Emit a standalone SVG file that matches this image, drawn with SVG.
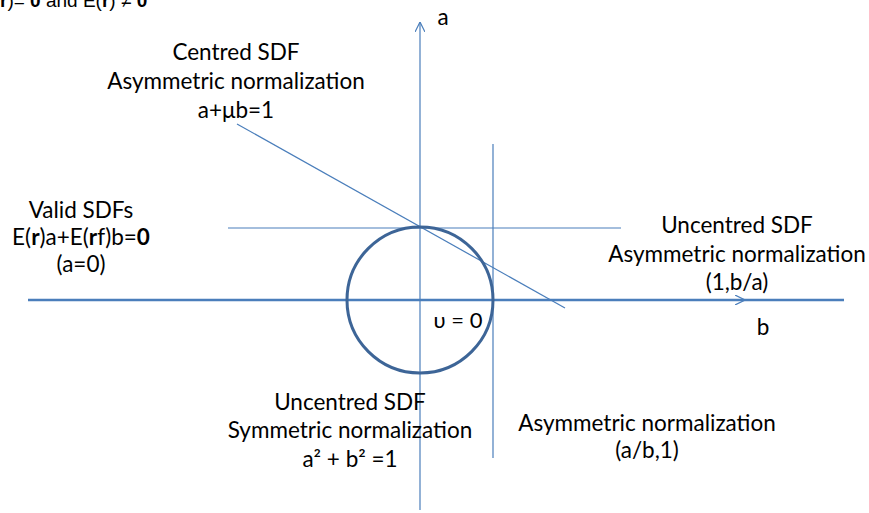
<svg xmlns="http://www.w3.org/2000/svg" width="869" height="513" viewBox="0 0 869 513">
<style>
.t{font-family:Lato,"Liberation Sans",sans-serif;font-size:22.5px;fill:#000;text-anchor:middle}
.ln{stroke:#4a7ebb;stroke-width:1.2;fill:none}
.ax{stroke:#4a7ebb;stroke-width:2.5;fill:none}
.b{font-weight:bold}
</style>
<defs>
<marker id="arr" viewBox="0 0 10 10" refX="10" refY="5" markerWidth="10" markerHeight="10" markerUnits="userSpaceOnUse" orient="auto">
<path d="M0,0 L10,5 L0,10" fill="none" stroke="#4a7ebb" stroke-width="1.2"/>
</marker>
</defs>
<rect width="869" height="513" fill="#fff"/>
<text x="0" y="7" style="font-family:'Liberation Sans',Arial,sans-serif;font-size:19px" fill="#000"><tspan class="b">r</tspan>)= <tspan class="b">0</tspan> and E(<tspan class="b">r</tspan>) ≠ <tspan class="b">0</tspan></text>
<g id="connectors">
<line class="ax" x1="28" y1="300" x2="844" y2="300"/>
<line class="ln" x1="420" y1="300" x2="745" y2="300" marker-end="url(#arr)"/>
<line class="ln" x1="420" y1="510" x2="420" y2="22" marker-end="url(#arr)"/>
<line class="ln" x1="228" y1="228" x2="621" y2="228"/>
<line class="ln" x1="493" y1="144" x2="493" y2="458"/>
<line class="ln" x1="237" y1="124" x2="565" y2="308"/>
</g>
<g id="circle">
<circle cx="420" cy="300" r="73" fill="none" stroke="#3d6597" stroke-width="3"/>
</g>
<g id="axis-a"><text class="t" x="443" y="25">a</text></g>
<g id="axis-b"><text class="t" x="763" y="335">b</text></g>
<g id="origin"><text class="t" x="458" y="328" style="font-size:22px">υ = 0</text></g>
<g id="centred">
<text class="t" x="236" y="60">Centred SDF</text>
<text class="t" x="236" y="89">Asymmetric normalization</text>
<text class="t" x="236" y="118">a+μb=1</text>
</g>
<g id="valid">
<text class="t" x="81" y="218">Valid SDFs</text>
<text class="t" x="81" y="245">E(<tspan class="b">r</tspan>)a+E(<tspan class="b">r</tspan>f)b=<tspan class="b">0</tspan></text>
<text class="t" x="81" y="272">(a=0)</text>
</g>
<g id="uncentred-asym">
<text class="t" x="737" y="233">Uncentred SDF</text>
<text class="t" x="737" y="262">Asymmetric normalization</text>
<text class="t" x="737" y="290">(1,b/a)</text>
</g>
<g id="uncentred-sym">
<text class="t" x="350" y="410">Uncentred SDF</text>
<text class="t" x="350" y="438">Symmetric normalization</text>
<text class="t" x="350" y="467">a² + b² =1</text>
</g>
<g id="asym-ab">
<text class="t" x="647" y="431">Asymmetric normalization</text>
<text class="t" x="647" y="458">(a/b,1)</text>
</g>
</svg>
